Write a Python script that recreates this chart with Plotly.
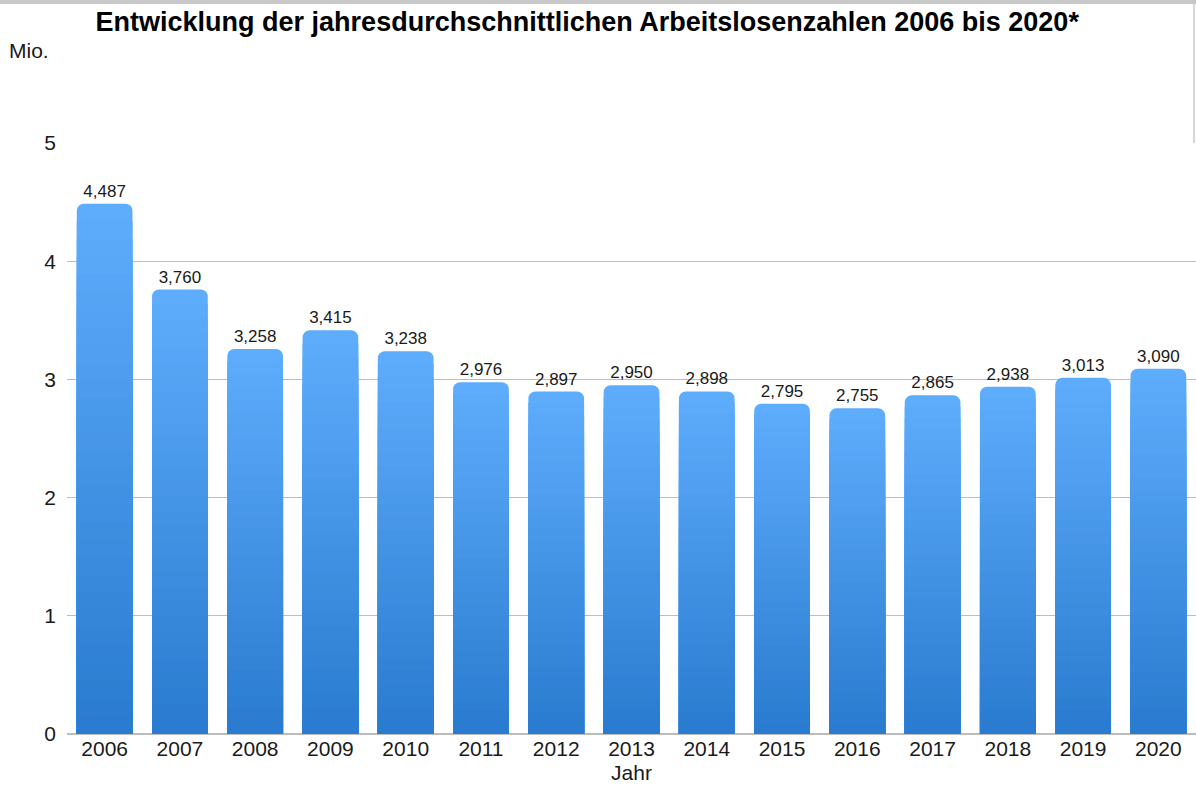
import plotly.graph_objects as go

years = ["2006", "2007", "2008", "2009", "2010", "2011", "2012", "2013",
         "2014", "2015", "2016", "2017", "2018", "2019", "2020"]
values = [4.487, 3.760, 3.258, 3.415, 3.238, 2.976, 2.897, 2.950,
          2.898, 2.795, 2.755, 2.865, 2.938, 3.013, 3.090]
y_ticks = [0, 1, 2, 3, 4, 5]

top_rgb = (94, 172, 252)
bot_rgb = (40, 122, 206)
N = 30

FONT = "Liberation Sans, Arial, Helvetica"

fig = go.Figure()
for k in range(N, 0, -1):
    f = k / N
    c = tuple(round(bot_rgb[i] + (top_rgb[i] - bot_rgb[i]) * f) for i in range(3))
    first = (k == N)
    fig.add_trace(go.Bar(
        x=years,
        y=[v * f for v in values] if not first else values,
        marker=dict(color="rgb(%d,%d,%d)" % c, line=dict(width=0),
                    cornerradius=7 if first else 0),
        text=[("%.3f" % v).replace(".", ",") for v in values] if first else None,
        textposition="outside" if first else "none",
        textfont=dict(size=17, color="#1a1a1a", family=FONT),
        cliponaxis=False,
        hoverinfo="skip",
        showlegend=False,
    ))

BAND = 4                     # grey strip above the figure (page background)
H = 796 - BAND
top_px, bot_px = 143 - BAND, 734 - BAND
ph = bot_px - top_px

fig.update_layout(
    width=1196, height=H,
    barmode="overlay", bargap=0.26,
    margin=dict(l=67, r=0, t=top_px, b=H - bot_px, autoexpand=False),
    plot_bgcolor="white", paper_bgcolor="white",
    font=dict(family=FONT, color="#1a1a1a"),
    title=dict(text="<b>Entwicklung der jahresdurchschnittlichen Arbeitslosenzahlen 2006 bis 2020*</b>",
               x=0.491, xref="container", xanchor="center",
               y=1 - (22 - BAND) / H, yref="container", yanchor="middle",
               font=dict(size=27, color="#000")),
    xaxis=dict(showgrid=False, showline=False, ticks="", tickfont=dict(size=21),
               title=dict(text="Jahr", font=dict(size=21), standoff=6)),
    yaxis=dict(range=[0, 5], tickvals=y_ticks, showgrid=True, gridcolor="#bdbdbd",
               gridwidth=1, zeroline=True, zerolinecolor="#bdbdbd", zerolinewidth=1.5,
               tickfont=dict(size=21), ticks="", ticklabelstandoff=10),
    annotations=[dict(text="Mio.", xref="paper", yref="paper",
                      x=(7 - 67) / 1129, y=1 + (top_px - (50 - BAND)) / ph,
                      xanchor="left", yanchor="middle",
                      showarrow=False, font=dict(size=21, color="#1a1a1a"))],
    shapes=[
        dict(type="line", xref="paper", yref="paper", ysizemode="pixel", yanchor=1,
             x0=(1194 - 67) / 1129, x1=(1194 - 67) / 1129,
             y0=0, y1=top_px, line=dict(color="#c8c8c8", width=1.5)),
    ],
)

fig.write_html("out.html", config={"displayModeBar": False},
               post_script="document.body.style.margin='0';document.body.style.paddingTop='4px';"
                           "document.body.style.background='#c8c8c8';document.body.style.overflow='hidden';")
